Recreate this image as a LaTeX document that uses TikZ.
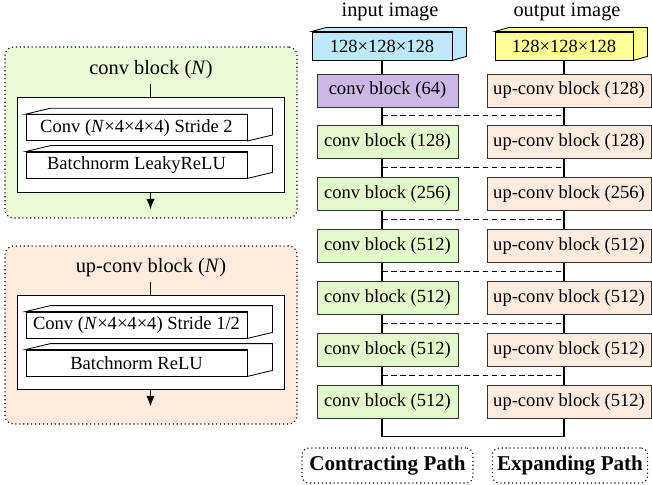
\documentclass[tikz,border=0pt]{standalone}
\usepackage{fontspec}
\setmainfont{Liberation Serif}
\usetikzlibrary{calc}
\usetikzlibrary{arrows.meta}

\definecolor{panelgreen}{HTML}{E8FAD6}
\definecolor{convgreen}{HTML}{E3F9CB}
\definecolor{uporange}{HTML}{FDEBDF}
\definecolor{convpurple}{HTML}{CBB8E6}
\definecolor{inblue}{HTML}{BDE9FC}
\definecolor{outyellow}{HTML}{FFFF99}

\tikzset{
  panel/.style={draw, dotted, line width=0.8pt, rounded corners=6pt, minimum width=7.3cm},
  innerbox/.style={draw, line width=0.6pt, fill=white, minimum width=6.675cm},
  layer/.style={draw, line width=0.6pt, fill=white, minimum width=5.525cm, minimum height=0.65cm, inner sep=0pt},
  block/.style={draw=black!80, line width=0.6pt, minimum height=0.825cm, inner sep=0pt},
  imagebox/.style={draw, line width=0.6pt, minimum height=0.7cm, inner sep=0pt},
  pathlabel/.style={draw, dotted, line width=0.8pt, rounded corners=5pt, minimum height=0.875cm,
    font=\rmfamily\fontsize{15}{17}\selectfont\bfseries},
  title/.style={font=\rmfamily\fontsize{14.5}{16}\selectfont},
  skip/.style={dash pattern=on 4pt off 2.5pt, line width=0.6pt}
}

\begin{document}
\begin{tikzpicture}[font=\rmfamily\fontsize{13.2}{15}\selectfont, line width=0.75pt]
\useasboundingbox (0,0) rectangle (16.3,-12.125);

% conv block panel
\node[panel, fill=panelgreen, minimum height=4.275cm] (gpanel) at (3.775,-3.3125) {};
\node[title] (gtitle) at (3.775,-1.75) {conv block (\textit{N})};
\node[innerbox, minimum height=2.375cm] (ginner) at (3.7625,-3.6125) {};
\node[layer] (gconv) at (3.4125,-3.19) {Conv (\textit{N}×4×4×4) Stride 2};
\node[layer] (gnorm) at (3.4125,-4.125) {Batchnorm LeakyReLU};

% up-conv block panel
\node[panel, fill=uporange, minimum height=4.45cm] (opanel) at (3.775,-8.375) {};
\node[title] (otitle) at (3.775,-6.7) {up-conv block (\textit{N})};
\node[innerbox, minimum height=2.35cm] (oinner) at (3.7625,-8.55) {};
\node[layer] (oconv) at (3.4125,-8.125) {Conv (\textit{N}×4×4×4) Stride 1/2};
\node[layer] (onorm) at (3.4125,-9.075) {Batchnorm ReLU};

\foreach \n in {gconv, gnorm, oconv, onorm} {
  \draw[fill=white, line width=0.6pt] (\n.north west) -- ++(0.625,0.15) -- ($(\n.north east)+(0.625,0.15)$)
    -- ($(\n.south east)+(0.625,0.15)$) -- (\n.south east) -- (\n.north east) -- cycle;
}

\draw (ginner.north) -- (ginner.north |- gtitle.south);
\draw (oinner.north) -- (oinner.north |- otitle.south);
\draw[-{Latex[length=2.6mm,width=2.1mm]}] (ginner.south) -- ++(0,-0.42);
\draw[-{Latex[length=2.6mm,width=2.1mm]}] (oinner.south) -- ++(0,-0.42);

% images
\node[title] (intitle) at (9.75,-0.3) {input image};
\node[title] (outtitle) at (14.175,-0.3) {output image};
\node[imagebox, fill=inblue, minimum width=3.5cm] (inp) at (9.55,-1.15) {128×128×128};
\node[imagebox, fill=outyellow, minimum width=3.45cm] (outp) at (14.1,-1.15) {128×128×128};
\foreach \n/\c in {inp/inblue, outp/outyellow} {
  \draw[fill=\c, line width=0.6pt] (\n.north west) -- ++(0.35,0.1) -- ($(\n.north east)+(0.35,0.1)$)
    -- ($(\n.south east)+(0.35,0.1)$) -- (\n.south east) -- (\n.north east) -- cycle;
}

% contracting and expanding paths
\foreach \i/\n/\m in {1/64/128, 2/128/128, 3/256/256, 4/512/512, 5/512/512, 6/512/512, 7/512/512} {
  \node[block, fill=convgreen, minimum width=3.525cm] (c\i) at (9.6875,{-2.2625-1.2975*(\i-1)}) {conv block (\n)};
  \node[block, fill=uporange, minimum width=4.1cm] (u\i) at (14.225,{-2.2625-1.2975*(\i-1)}) {up-conv block (\m)};
}
\node[block, fill=convpurple, minimum width=3.525cm] (c1) at (9.6875,-2.2625) {conv block (64)};

\draw (inp.south) -- (inp.south |- c1.north);
\draw (outp.south) -- (outp.south |- u1.north);
\foreach \i [count=\j from 2] in {1,...,6} {
  \draw (inp.south |- c\i.south) -- (inp.south |- c\j.north);
  \draw (outp.south |- u\i.south) -- (outp.south |- u\j.north);
  \draw[skip] ($(inp.south |- c\i.south)!0.45!(inp.south |- c\j.north)$)
    -- ($(outp.south |- u\i.south)!0.45!(outp.south |- u\j.north)$);
}
\draw (inp.south |- c7.south) -- ++(0,-0.44) -| (outp.south |- u7.south);

\node[pathlabel, minimum width=4.275cm] (cpath) at (9.6875,-11.6375) {Contracting Path};
\node[pathlabel, minimum width=3.85cm] (epath) at (14.25,-11.6375) {Expanding Path};
\end{tikzpicture}
\end{document}
